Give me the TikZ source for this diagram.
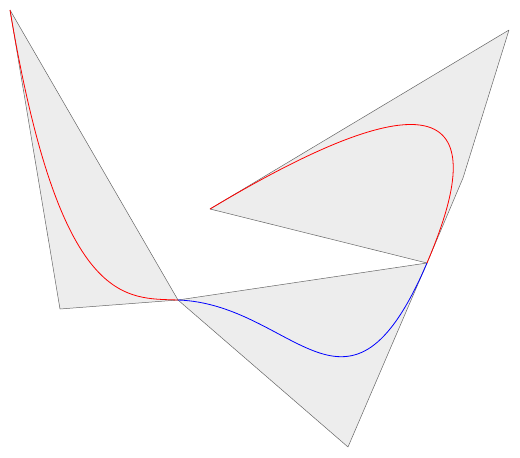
\documentclass[tikz,border=0pt]{standalone}
\usepackage{tikz}

\begin{document}
\begin{tikzpicture}[x=1pt,y=-1pt,
    hull/.style={fill=black!7,draw=black!60,line width=0.5pt,line join=round},
    seg/.style={line width=0.8pt}]
                \useasboundingbox (0,0) rectangle (520,458);

                % control points
                \coordinate (p0) at (10,10);
                \coordinate (p1) at (60,309);
                \coordinate (p2) at (126,298);
                \coordinate (p3) at (178,300);
                \coordinate (q1) at (295,304);
                \coordinate (q2) at (348,447);
                \coordinate (q3) at (427,263);
                \coordinate (r1) at (463,178);
                \coordinate (r2) at (509,30);
                \coordinate (r3) at (210,209);

                % convex hulls
                \draw[hull] (p0) -- (p1) -- (p3) -- cycle;
                \draw[hull] (p3) -- (q2) -- (q3) -- cycle;
                \draw[hull] (q3) -- (r1) -- (r2) -- (r3) -- cycle;

                % curve pieces
                \draw[seg,red] (p0) .. controls (p1) and (p2) .. (p3);
                \draw[seg,blue] (p3) .. controls (q1) and (q2) .. (q3);
                \draw[seg,red] (q3) .. controls (r1) and (r2) .. (r3);
            \end{tikzpicture}
\end{document}
